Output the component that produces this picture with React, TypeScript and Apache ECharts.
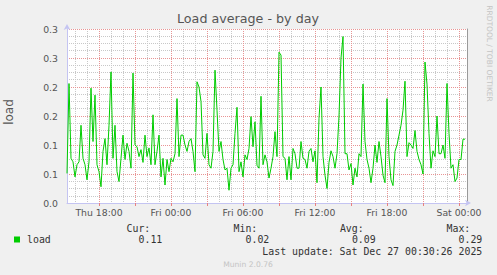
import React, { useEffect, useRef } from 'react';
import * as echarts from 'echarts';

const TITLE = 'Load average - by day';
const Y_NAME = 'load';
const WATERMARK = 'RRDTOOL / TOBI OETIKER';
const FOOTER = 'Munin 2.0.76';
const LAST_UPDATE = 'Last update: Sat Dec 27 00:30:26 2025';
const SERIES_NAME = 'load';

const DAY_NAMES = ['Thu', 'Fri', 'Sat'];
const START_MINUTE = 15 * 60 + 20; // Thu 15:20
const STEP_MINUTES = 10;

const Y_TICK_LABELS = ['0.0', '0.1', '0.1', '0.2', '0.2', '0.3', '0.3'];
const STAT_HEADERS = ['Cur:', 'Min:', 'Avg:', 'Max:'];
const STAT_VALUES = ['0.11', '0.02', '0.09', '0.29'];

// load average, 10-minute samples from Thu 15:20
const loadThuEvening = [
  0.051, 0.206, 0.077, 0.071, 0.045, 0.066, 0.071, 0.134, 0.077, 0.066,
  0.040, 0.071, 0.198, 0.106, 0.186, 0.066, 0.054, 0.028, 0.089, 0.111,
  0.066, 0.134, 0.226, 0.077, 0.134, 0.054, 0.037, 0.077, 0.117, 0.075,
  0.103, 0.089, 0.060, 0.224, 0.100, 0.097, 0.080, 0.092, 0.070, 0.117,
  0.080, 0.095, 0.066, 0.152, 0.066, 0.089, 0.117, 0.045, 0.077, 0.031,
  0.075,
];
const loadFriMorning = [
  0.054, 0.077, 0.071, 0.085, 0.180, 0.080, 0.117, 0.117, 0.100, 0.089,
  0.106, 0.111, 0.089, 0.054, 0.209, 0.200, 0.175, 0.083, 0.077, 0.120,
  0.066, 0.060, 0.089, 0.229, 0.160, 0.089, 0.106, 0.075, 0.057, 0.060,
  0.022, 0.060, 0.066, 0.120, 0.165, 0.054, 0.071, 0.045, 0.083, 0.075,
  0.094, 0.149, 0.097, 0.140, 0.065, 0.060, 0.184, 0.066, 0.083, 0.071,
];
const loadFriAfternoon = [
  0.043, 0.060, 0.080, 0.123, 0.080, 0.260, 0.255, 0.080, 0.077, 0.040,
  0.080, 0.040, 0.094, 0.085, 0.060, 0.060, 0.106, 0.077, 0.075, 0.060,
  0.089, 0.094, 0.071, 0.090, 0.035, 0.146, 0.200, 0.080, 0.048, 0.025,
  0.070, 0.090, 0.080, 0.060, 0.085, 0.150, 0.250, 0.287, 0.085, 0.085,
  0.057, 0.068, 0.031, 0.060, 0.045, 0.085, 0.080, 0.205, 0.106, 0.075,
];
const loadFriNight = [
  0.060, 0.035, 0.060, 0.100, 0.070, 0.106, 0.080, 0.048, 0.035, 0.180,
  0.080, 0.040, 0.030, 0.089, 0.100, 0.117, 0.134, 0.160, 0.210, 0.080,
  0.104, 0.100, 0.094, 0.125, 0.089, 0.075, 0.066, 0.050, 0.243, 0.205,
  0.120, 0.060, 0.090, 0.080, 0.150, 0.085, 0.085, 0.100, 0.077, 0.206,
  0.120, 0.060, 0.066, 0.037, 0.043, 0.075, 0.075, 0.110, 0.110, null,
];

const loadValues: (number | null)[] = [
  ...loadThuEvening,
  ...loadFriMorning,
  ...loadFriAfternoon,
  ...loadFriNight,
];

const pad = (n: number) => (n < 10 ? '0' + n : '' + n);
const categories: string[] = loadValues.map((_, i) => {
  const t = START_MINUTE + i * STEP_MINUTES;
  const day = DAY_NAMES[Math.floor(t / 1440)];
  const hh = Math.floor((t % 1440) / 60);
  const mm = t % 60;
  return `${day} ${pad(hh)}:${pad(mm)}`;
});

const hourOf = (c: string) => parseInt(c.slice(4, 6), 10);
const minOf = (c: string) => parseInt(c.slice(7, 9), 10);
const isMajor = (c: string) => minOf(c) === 0 && hourOf(c) % 3 === 0;
const isMinor = (c: string) => minOf(c) === 0 && hourOf(c) % 3 !== 0;
const isLabel = (c: string) => minOf(c) === 0 && hourOf(c) % 6 === 0;

const SANS = 'DejaVu Sans';
const MONO = 'DejaVu Sans Mono';
const GREEN = '#00cc00';
const AXIS_COLOR = '#c4c4f2';
const MAJOR_GRID = '#e89494';
const MINOR_GRID = '#c8c8c8';
const DOTS = [1, 1];

export default function App() {
  const ref = useRef<HTMLDivElement>(null);

  useEffect(() => {
    if (!ref.current) return;
    const chart = echarts.init(ref.current, undefined, { renderer: 'svg' });

    const valueRight = [162.3, 269.3, 375.7, 482.3];
    const statTexts: any[] = [];
    STAT_HEADERS.forEach((h, i) => {
      statTexts.push({
        type: 'text', x: valueRight[i] - 12, y: 228,
        style: { text: h, fontFamily: MONO, fontSize: 9.9, fill: '#333', align: 'right', verticalAlign: 'middle' },
      });
      statTexts.push({
        type: 'text', x: valueRight[i], y: 239,
        style: { text: STAT_VALUES[i], fontFamily: MONO, fontSize: 9.9, fill: '#333', align: 'right', verticalAlign: 'middle' },
      });
    });

    chart.setOption({
      animation: false,
      backgroundColor: '#f0f0f0',
      grid: {
        left: 67, top: 29, width: 400, height: 174,
        show: true, backgroundColor: '#ffffff', borderWidth: 0,
      },
      xAxis: [
        {
          type: 'category', data: categories, boundaryGap: false, gridIndex: 0,
          axisLine: {
            show: true, lineStyle: { color: AXIS_COLOR, width: 1 },
            symbol: ['none', 'arrow'], symbolSize: [5, 6], symbolOffset: [0, 4],
          },
          axisTick: {
            show: true, interval: (_i: number, v: string) => isMajor(v), length: 3,
            lineStyle: { color: '#e88080' },
          },
          axisLabel: {
            interval: (_i: number, v: string) => isLabel(v),
            color: '#555', fontFamily: SANS, fontSize: 9.3, margin: 5,
          },
          splitLine: {
            show: true, interval: (_i: number, v: string) => isMajor(v),
            lineStyle: { color: MAJOR_GRID, type: DOTS, width: 1 },
          },
          z: 2,
        },
        {
          type: 'category', data: categories, boundaryGap: false, gridIndex: 0,
          axisLine: { show: false }, axisTick: { show: false }, axisLabel: { show: false },
          splitLine: {
            show: true, interval: (_i: number, v: string) => isMinor(v),
            lineStyle: { color: MINOR_GRID, type: DOTS, width: 1 },
          },
          z: 1,
        },
      ],
      yAxis: [
        {
          type: 'value', min: 0, max: 0.3, interval: 0.05,
          axisLine: {
            show: true, lineStyle: { color: AXIS_COLOR, width: 1 },
            symbol: ['none', 'arrow'], symbolSize: [5, 6], symbolOffset: [0, 5],
          },
          axisTick: { show: false },
          axisLabel: {
            formatter: (v: number) => Y_TICK_LABELS[Math.round(v / 0.05)] ?? '',
            color: '#555', fontFamily: SANS, fontSize: 9.3, margin: 9,
          },
          splitLine: { show: true, lineStyle: { color: MAJOR_GRID, type: DOTS, width: 1 } },
          minorTick: { show: false, splitNumber: 4 },
          minorSplitLine: { show: true, lineStyle: { color: MINOR_GRID, type: DOTS, width: 1 } },
          z: 2,
        },
        {
          type: 'value', min: 0, max: 0.3, interval: 0.05, position: 'right',
          axisLine: { show: true, lineStyle: { color: '#9a9a9a', width: 1 } },
          axisTick: { show: false }, axisLabel: { show: false }, splitLine: { show: false },
        },
      ],
      series: [
        {
          name: SERIES_NAME, type: 'line', xAxisIndex: 0, yAxisIndex: 0,
          data: loadValues, symbol: 'none', showSymbol: false,
          lineStyle: { color: GREEN, width: 1 }, itemStyle: { color: GREEN },
          z: 5,
        },
      ],
      graphic: [
        {
          type: 'text', x: 248, y: 18,
          style: { text: TITLE, fontFamily: SANS, fontSize: 12.7, fill: '#555', align: 'center', verticalAlign: 'middle' },
        },
        {
          type: 'text', x: 9, y: 112, rotation: Math.PI / 2,
          style: { text: Y_NAME, fontFamily: SANS, fontSize: 12, fill: '#555', align: 'center', verticalAlign: 'middle' },
        },
        {
          type: 'text', x: 489, y: 53.5, rotation: -Math.PI / 2,
          style: { text: WATERMARK, fontFamily: SANS, fontSize: 7.5, fill: '#c4c4c4', align: 'center', verticalAlign: 'middle' },
        },
        {
          type: 'rect', shape: { x: 14, y: 236.5, width: 6, height: 6 }, style: { fill: GREEN },
        },
        {
          type: 'text', x: 27, y: 239,
          style: { text: SERIES_NAME, fontFamily: MONO, fontSize: 9.9, fill: '#333', align: 'left', verticalAlign: 'middle' },
        },
        ...statTexts,
        {
          type: 'text', x: 482.3, y: 251,
          style: { text: LAST_UPDATE, fontFamily: MONO, fontSize: 9.9, fill: '#333', align: 'right', verticalAlign: 'middle' },
        },
        {
          type: 'text', x: 248, y: 264,
          style: { text: FOOTER, fontFamily: SANS, fontSize: 7.6, fill: '#c4c4c4', align: 'center', verticalAlign: 'middle' },
        },
      ],
    });

    return () => chart.dispose();
  }, []);

  return (
    <div
      ref={ref}
      style={{ position: 'fixed', left: 0, top: 0, width: 497, height: 275, background: '#f0f0f0' }}
    />
  );
}
